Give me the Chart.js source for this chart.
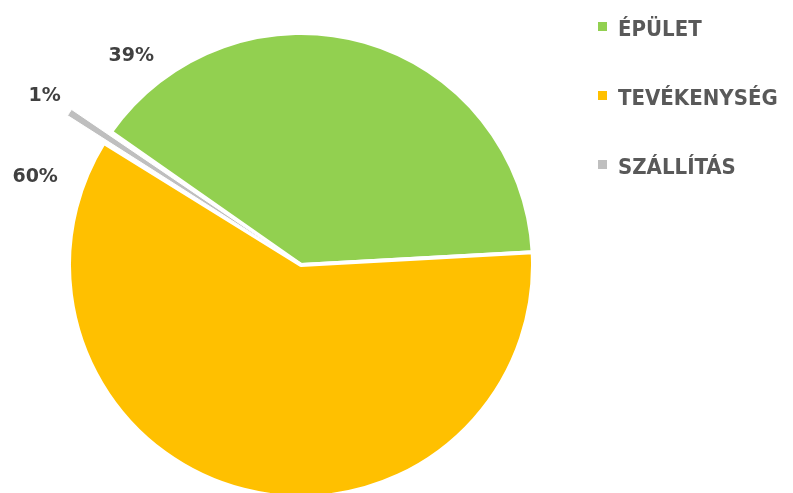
<!DOCTYPE html>
<html>
<head>
<meta charset="utf-8">
<script src="https://cdn.jsdelivr.net/npm/chart.js@4/dist/chart.umd.min.js"></script>
<style>
  html, body { margin: 0; padding: 0; background: #fff; }
  #wrap { width: 793px; height: 493px; position: relative; }
</style>
</head>
<body>
<div id="wrap"><canvas id="c" width="793" height="493"></canvas></div>
<script>
// ---- data ----
const categories = ['ÉPÜLET', 'TEVÉKENYSÉG', 'SZÁLLÍTÁS'];
const shares = [39.4, 59.7, 0.9];
const sliceColors = ['#92D050', '#FFC000', '#BFBFBF'];

// ---- styling / layout (not data) ----
const explode = [0, 0, 93];
const labelPolar = [            // label anchor: angle (deg, canvas) and distance from pie centre
  { angle: -129.1, r: 269 },
  { angle: -161.7, r: 280 },
  { angle: -146.6, r: 307 }
];
const FONT = '"DejaVu Sans", sans-serif';
const LEGEND_FONT = '"DejaVu Sans Condensed", "DejaVu Sans", sans-serif';

const pctLabels = {
  id: 'pctLabels',
  afterDatasetsDraw(chart) {
    const ctx = chart.ctx;
    const meta = chart.getDatasetMeta(0);
    const total = shares.reduce((a, b) => a + b, 0);
    ctx.save();
    ctx.font = 'bold 19px ' + FONT;
    ctx.fillStyle = '#404040';
    ctx.textAlign = 'center';
    ctx.textBaseline = 'middle';
    meta.data.forEach((arc, i) => {
      const p = labelPolar[i];
      const a = p.angle * Math.PI / 180;
      const txt = Math.round(shares[i] / total * 100) + '%';
      ctx.fillText(txt, arc.x + Math.cos(a) * p.r, arc.y + Math.sin(a) * p.r);
    });
    ctx.restore();
  }
};

const sideLegend = {
  id: 'sideLegend',
  afterDraw(chart) {
    const ctx = chart.ctx;
    ctx.save();
    ctx.font = 'bold 22px ' + LEGEND_FONT;
    ctx.textBaseline = 'alphabetic';
    ctx.textAlign = 'left';
    const baselines = [36, 105, 174];
    chart.data.labels.forEach((lab, i) => {
      const y = baselines[i];
      ctx.fillStyle = chart.data.datasets[0].backgroundColor[i];
      ctx.fillRect(598, y - 14, 9, 9);
      ctx.fillStyle = '#595959';
      ctx.fillText(lab, 618, y);
    });
    ctx.restore();
  }
};

new Chart(document.getElementById('c'), {
  type: 'pie',
  data: {
    labels: categories,
    datasets: [{
      data: shares,
      backgroundColor: sliceColors,
      borderColor: '#ffffff',
      borderWidth: [4, 4, 1],
      offset: explode
    }]
  },
  options: {
    responsive: false,
    animation: false,
    rotation: -55,
    radius: 232,
    layout: { padding: { left: 0, right: 191, top: 37, bottom: 0 } },
    plugins: {
      legend: { display: false },
      tooltip: { enabled: false }
    }
  },
  plugins: [pctLabels, sideLegend]
});
</script>
</body>
</html>
